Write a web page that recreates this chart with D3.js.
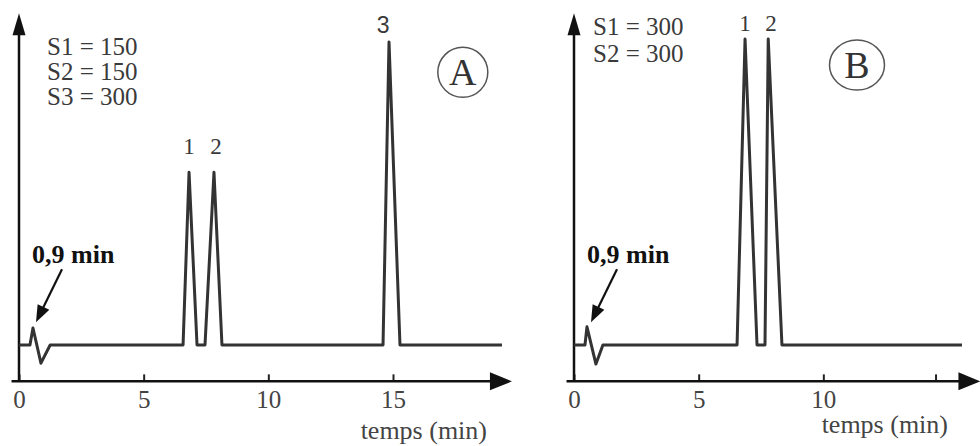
<!DOCTYPE html>
<html>
<head>
<meta charset="utf-8">
<script src="https://cdn.jsdelivr.net/npm/d3@7"></script>
<style>
  body { margin: 0; background: #fff; }
  svg { display: block; }
  text { font-family: "Liberation Serif", "Times New Roman", serif; }
</style>
</head>
<body>
<svg id="chart" width="980" height="446"></svg>
<script>
// chromatogram A : time (min) / detector signal (arbitrary, peak 3 = 100)
var timeA   = [0, 0.44, 0.56, 0.88, 1.25, 6.58, 6.82, 7.14, 7.46, 7.82, 8.14, 14.60, 14.84, 15.28, 19.37];
var signalA = [0, 0,    5.6,  -6,   0,    0,    57,   0,    0,    57,   0,    0,     100,   0,     0];

// chromatogram B
var timeB   = [0, 0.44, 0.52, 0.88, 1.16, 6.54, 6.86, 7.34, 7.66, 7.79, 8.34, 15.56];
var signalB = [0, 0,    6,    -6.3, 0,    0,    101,  0,    0,    101,  0,    0];

var ticksA = [0, 5, 10, 15];
var tickLabelsA = ["0", "5", "10", "15"];
var ticksB = [0, 5, 10, 14.5];
var tickLabelsB = ["0", "5", "10", ""];

var legendA = ["S1 = 150", "S2 = 150", "S3 = 300"];
var legendB = ["S1 = 300", "S2 = 300"];

var peakLabelsA = ["1", "2", "3"];
var peakLabelTimesA = [6.82, 7.9, 14.6];
var peakLabelLevelsA = [63, 63, 103];
var peakLabelsB = ["1", "2"];
var peakLabelTimesB = [6.86, 7.9];
var peakLabelLevelsB = [103.5, 103.5];

var svg = d3.select("#chart");
var y = d3.scaleLinear().domain([0, 100]).range([345, 42]);

function drawPanel(opt) {
  var x = d3.scaleLinear().domain([0, 15]).range([opt.left, opt.left + 374]);
  var g = svg.append("g");
  var axisY = y(-12);

  // ticks + labels
  g.append("g")
      .attr("transform", "translate(0," + axisY + ")")
      .call(d3.axisBottom(x)
        .tickValues(opt.ticks)
        .tickFormat(function(d, i) { return opt.tickLabels[i]; })
        .tickSizeInner(-7).tickSizeOuter(0).tickPadding(9))
      .call(function(a) { a.select(".domain").remove(); })
      .call(function(a) {
        a.selectAll("line").attr("stroke", "#222").attr("stroke-width", 2);
        a.selectAll("text")
          .attr("font-size", 25)
          .attr("fill", "#444");
      });

  // x axis with arrow
  var tipX = x(opt.axisEnd);
  g.append("line")
      .attr("x1", x(-0.3)).attr("x2", tipX - 18)
      .attr("y1", axisY).attr("y2", axisY)
      .attr("stroke", "#111").attr("stroke-width", 2.5);
  g.append("path")
      .attr("d", "M" + tipX + "," + axisY + "L" + (tipX - 22) + "," + (axisY - 9) + "L" + (tipX - 22) + "," + (axisY + 9) + "Z")
      .attr("fill", "#111");

  // y axis with arrow
  var tipY = y(109.5);
  g.append("line")
      .attr("x1", x(0)).attr("x2", x(0))
      .attr("y1", axisY).attr("y2", tipY + 18)
      .attr("stroke", "#111").attr("stroke-width", 2.5);
  g.append("path")
      .attr("d", "M" + x(0) + "," + tipY + "L" + (x(0) - 6.5) + "," + (tipY + 22) + "L" + (x(0) + 6.5) + "," + (tipY + 22) + "Z")
      .attr("fill", "#111");

  // signal
  var line = d3.line()
      .x(function(d) { return x(d[0]); })
      .y(function(d) { return y(d[1]); });
  g.append("path")
      .datum(d3.zip(opt.times, opt.signals))
      .attr("d", line)
      .attr("fill", "none")
      .attr("stroke", "#333")
      .attr("stroke-width", 3)
      .attr("stroke-linejoin", "round");

  // legend
  g.selectAll(".leg")
    .data(opt.legend)
    .enter().append("text")
      .attr("x", opt.legendX)
      .attr("y", function(d, i) { return opt.legendY + i * opt.legendStep; })
      .attr("font-size", 25)
      .attr("fill", "#3a3a3a")
      .text(function(d) { return d; });

  // peak numbers
  g.selectAll(".pk")
    .data(opt.peakLabels)
    .enter().append("text")
      .attr("x", function(d, i) { return x(opt.peakTimes[i]); })
      .attr("y", function(d, i) { return y(opt.peakLevels[i]); })
      .attr("text-anchor", "middle")
      .attr("font-size", 23)
      .style("font-family", function(d) { return d === "3" ? "'Liberation Sans', sans-serif" : null; })
      .attr("fill", "#3a3a3a")
      .text(function(d) { return d; });

  // dead time note
  g.append("text")
      .attr("x", x(0) + 13).attr("y", y(27))
      .attr("font-size", 26).attr("font-weight", "bold")
      .attr("fill", "#111")
      .text("0,9 min");
  var ax0 = x(0) + 43, ay0 = y(25), ax1 = x(0) + 17, ay1 = y(7.5);
  var ang = Math.atan2(ay1 - ay0, ax1 - ax0);
  g.append("line")
      .attr("x1", ax0).attr("y1", ay0)
      .attr("x2", ax1 - 12 * Math.cos(ang)).attr("y2", ay1 - 12 * Math.sin(ang))
      .attr("stroke", "#111").attr("stroke-width", 2.2);
  g.append("path")
      .attr("d", "M0,0L-17,-6.5L-17,6.5Z")
      .attr("transform", "translate(" + ax1 + "," + ay1 + ") rotate(" + (ang * 180 / Math.PI) + ")")
      .attr("fill", "#111");

  // circled panel letter
  g.append("ellipse")
      .attr("cx", x(opt.badgeT)).attr("cy", y(opt.badgeLevel))
      .attr("rx", opt.badgeRx).attr("ry", 25)
      .attr("fill", "none").attr("stroke", "#555").attr("stroke-width", 1.5);
  g.append("text")
      .attr("x", x(opt.badgeT)).attr("y", y(opt.badgeLevel) + 13)
      .attr("text-anchor", "middle")
      .attr("font-size", 38)
      .attr("fill", "#333")
      .text(opt.badge);

  // axis title
  g.append("text")
      .attr("x", opt.titleX).attr("y", opt.titleY)
      .attr("text-anchor", "end")
      .attr("font-size", 26)
      .attr("fill", "#444")
      .text("temps (min)");
}

drawPanel({
  left: 19, axisEnd: 19.77,
  ticks: ticksA, tickLabels: tickLabelsA,
  times: timeA, signals: signalA,
  legend: legendA, legendX: 47, legendY: 55, legendStep: 25,
  peakLabels: peakLabelsA, peakTimes: peakLabelTimesA, peakLevels: peakLabelLevelsA,
  badge: "A", badgeT: 17.8, badgeLevel: 90, badgeRx: 25,
  titleX: 487, titleY: 439
});

drawPanel({
  left: 574, axisEnd: 16.3,
  ticks: ticksB, tickLabels: tickLabelsB,
  times: timeB, signals: signalB,
  legend: legendB, legendX: 593, legendY: 35, legendStep: 27,
  peakLabels: peakLabelsB, peakTimes: peakLabelTimesB, peakLevels: peakLabelLevelsB,
  badge: "B", badgeT: 11.35, badgeLevel: 92.4, badgeRx: 27.5,
  titleX: 948, titleY: 433
});
</script>
</body>
</html>
